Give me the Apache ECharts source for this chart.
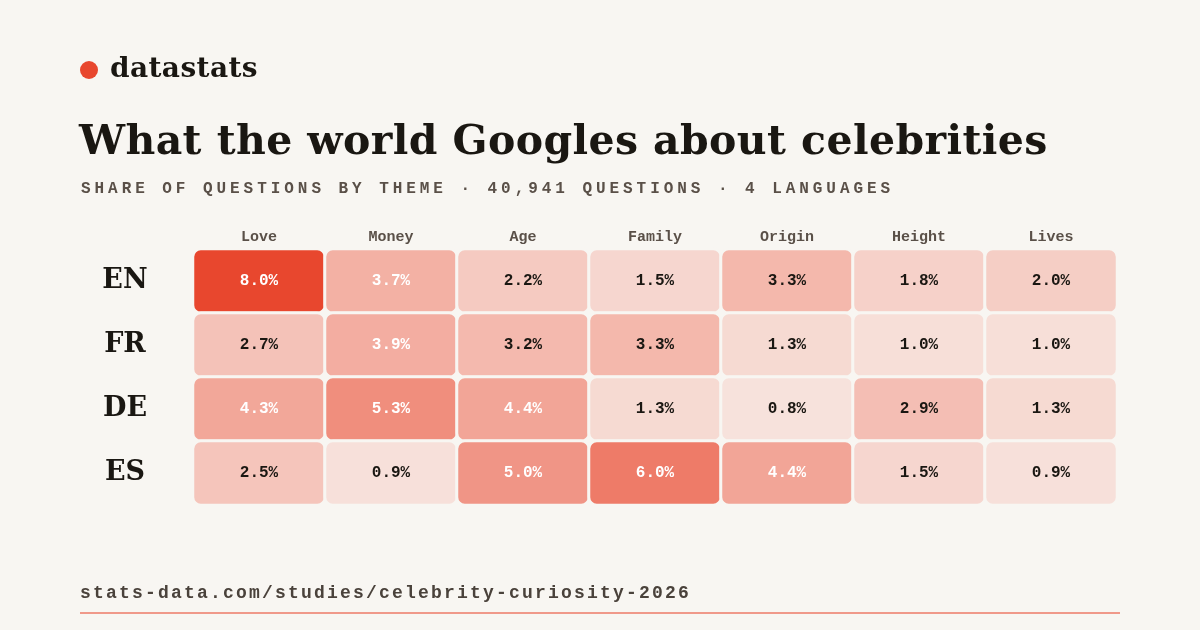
<!DOCTYPE html>
<html><head><meta charset="utf-8">
<script src="https://cdn.jsdelivr.net/npm/echarts@6/dist/echarts.min.js"></script>
<style>
body{margin:0;background:#f8f6f2;width:1200px;height:630px;overflow:hidden;position:relative}
#c{position:absolute;left:0;top:0;width:1200px;height:630px}
.t{position:absolute;white-space:nowrap}
</style></head><body>
<div id="c"></div>
<div class="t" style="left:80px;top:61px;width:18px;height:18px;border-radius:50%;background:#e8472e"></div>
<div class="t" style="left:110px;top:51px;font:bold 28px 'DejaVu Serif';color:#1a1712;letter-spacing:0.4px">datastats</div>
<div class="t" style="left:79px;top:116px;font:bold 41px 'DejaVu Serif';color:#1a1712;letter-spacing:0.4px">What the world Googles about celebrities</div>
<div class="t" style="left:81px;top:180px;font:bold 16px 'Liberation Mono';color:#5a5048;letter-spacing:3.95px">SHARE OF QUESTIONS BY THEME · 40,941 QUESTIONS · 4 LANGUAGES</div>
<div class="t" style="left:80px;top:583px;font:bold 18px 'Liberation Mono';color:#4a423b;letter-spacing:2.2px">stats-data.com/studies/celebrity-curiosity-2026</div>
<div class="t" style="left:80px;top:612px;width:1040px;height:2px;background:#f0998a"></div>
<script>
const themes=['Love','Money','Age','Family','Origin','Height','Lives'];
const langs=['EN','FR','DE','ES'];
const EN=[8.0,3.7,2.2,1.5,3.3,1.8,2.0];
const FR=[2.7,3.9,3.2,3.3,1.3,1.0,1.0];
const DE=[4.3,5.3,4.4,1.3,0.8,2.9,1.3];
const ES=[2.5,0.9,5.0,6.0,4.4,1.5,0.9];
const rows=[EN,FR,DE,ES];
const data=[];
rows.forEach((r,j)=>r.forEach((v,i)=>data.push({value:[i,j,v],label:{color:v>=3.5?'#ffffff':'#1a1712'}})));
const ch=echarts.init(document.getElementById('c'));
ch.setOption({
 backgroundColor:'transparent',
 grid:{left:193,right:83,top:249,height:256},
 xAxis:{type:'category',data:themes,position:'top',axisLine:{show:false},axisTick:{show:false},
  axisLabel:{margin:4,fontFamily:'Liberation Mono',fontWeight:'bold',fontSize:15,color:'#5a5048'}},
 yAxis:{type:'category',data:langs,inverse:true,axisLine:{show:false},axisTick:{show:false},
  axisLabel:{margin:68,align:'center',fontFamily:'DejaVu Serif',fontWeight:'bold',fontSize:27,color:'#1a1712'}},
 visualMap:{show:false,min:0.8,max:8.0,dimension:2,inRange:{color:['#f7e2dc','#f2a597','#e8472e']}},
 series:[{type:'heatmap',data:data,
  itemStyle:{borderColor:'#f8f6f2',borderWidth:3,borderRadius:8},
  label:{show:true,formatter:p=>p.value[2].toFixed(1)+'%',fontFamily:'Liberation Mono',fontWeight:'bold',fontSize:16},
  emphasis:{disabled:true}}]
});
</script></body></html>
